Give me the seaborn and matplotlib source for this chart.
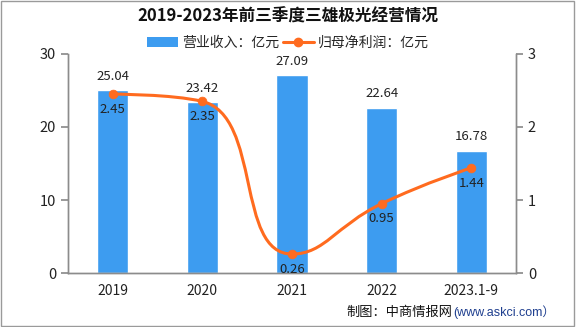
import numpy as np
import matplotlib
matplotlib.use("Agg")
import matplotlib.pyplot as plt
from matplotlib.path import Path
from matplotlib.patches import PathPatch, Patch, Rectangle
from matplotlib.lines import Line2D
import seaborn as sns

# data
years = ["2019", "2020", "2021", "2022", "2023.1-9"]
revenue = [25.04, 23.42, 27.09, 22.64, 16.78]      # 营业收入：亿元
net_profit = [2.45, 2.35, 0.26, 0.95, 1.44]        # 归母净利润：亿元

bar_color = "#3d9cf0"
line_color = "#ff6b1f"
axis_color = "#8c8c8c"

sns.set_theme(style="white")
plt.rcParams["font.family"] = ["Noto Sans CJK SC", "DejaVu Sans"]


def smooth_path(xs, ys, sx, sy, smooth=0.5):
    """Bezier path through the points, echarts-like smoothing with clamped control points."""
    px = np.asarray(xs, float) * sx
    py = np.asarray(ys, float) * sy
    n = len(px)
    verts = [(px[0], py[0])]
    codes = [Path.MOVETO]
    cx0, cy0 = px[0], py[0]
    for k in range(1, n):
        x, y = px[k], py[k]
        prx, pry = px[k - 1], py[k - 1]
        if k == n - 1:
            cx1, cy1 = x, y
            ncx0, ncy0 = x, y
        else:
            nx, ny = px[k + 1], py[k + 1]
            vx, vy = nx - prx, ny - pry
            len_prev = np.hypot(x - prx, y - pry)
            len_next = np.hypot(nx - x, ny - y)
            r = len_next / (len_next + len_prev)
            ncx0 = x + vx * smooth * r
            ncy0 = y + vy * smooth * r
            ncx0 = min(max(ncx0, min(nx, x)), max(nx, x))
            ncy0 = min(max(ncy0, min(ny, y)), max(ny, y))
            vx, vy = ncx0 - x, ncy0 - y
            cx1 = x - vx * len_prev / len_next
            cy1 = y - vy * len_prev / len_next
            cx1 = min(max(cx1, min(prx, x)), max(prx, x))
            cy1 = min(max(cy1, min(pry, y)), max(pry, y))
            vx, vy = x - cx1, y - cy1
            ncx0 = x + vx * len_next / len_prev
            ncy0 = y + vy * len_next / len_prev
        verts += [(cx0, cy0), (cx1, cy1), (x, y)]
        codes += [Path.CURVE4] * 3
        cx0, cy0 = ncx0, ncy0
    verts = [(vx_ / sx, vy_ / sy) for vx_, vy_ in verts]
    return Path(verts, codes)


fig = plt.figure(figsize=(5.76, 3.27), dpi=100)
ax = fig.add_axes([0.118, 0.165, 0.778, 0.67])
ax2 = ax.twinx()

sns.barplot(x=years, y=revenue, color=bar_color, width=0.35, saturation=1, ax=ax)
ax.set_xlim(-0.5, 4.5)
ax.set_ylim(0, 30)
ax.set_yticks([0, 10, 20, 30])
ax2.set_ylim(0, 3)
ax2.set_yticks([0, 1, 2, 3])
ax.set_xlabel("")
ax.set_ylabel("")

xs = np.arange(len(net_profit), dtype=float)
# px per unit, only for the smoothing weights
ax2.add_patch(PathPatch(smooth_path(xs, net_profit, 89.6, 73.0), fill=False,
                        edgecolor=line_color, linewidth=2.2, zorder=3))
sns.scatterplot(x=xs, y=net_profit, color=line_color, s=40, edgecolor=line_color,
                zorder=4, ax=ax2, legend=False)

# value labels
for i, v in enumerate(revenue):
    ax.text(i, v + 1.0, f"{v:.2f}", ha="center", va="bottom", fontsize=9.5,
            color="#222222")
for i, v in enumerate(net_profit):
    ax2.text(i, v - 0.12, f"{v:.2f}", ha="center", va="top", fontsize=9.5,
             color="#222222", zorder=5)

# axes styling
for a in (ax, ax2):
    a.spines["top"].set_visible(False)
    for s in ("left", "right", "bottom"):
        a.spines[s].set_color(axis_color)
        a.spines[s].set_linewidth(1)
    a.grid(False)
ax.set_xticks(np.arange(-0.5, 5, 1), minor=True)
ax.tick_params(axis="x", which="major", length=0, labelsize=10, pad=8,
               labelcolor="#222222")
ax.tick_params(axis="x", which="minor", length=5, color=axis_color, direction="out")
ax.tick_params(axis="y", length=5, color=axis_color, labelsize=10.5,
               labelcolor="#222222", left=True)
ax2.tick_params(axis="y", length=5, color=axis_color, labelsize=10.5,
                labelcolor="#222222", right=True)

fig.text(0.5, 0.948, "2019-2023年前三季度三雄极光经营情况", ha="center",
         va="center", fontsize=12, fontweight="bold", color="#111111")
handles = [Patch(facecolor=bar_color, edgecolor="none"),
           Line2D([0], [0], color=line_color, lw=2.2, marker="o", markersize=6)]
fig.legend(handles, ["营业收入：亿元", "归母净利润：亿元"], loc="center",
           bbox_to_anchor=(0.5, 0.868), ncol=2, frameon=False, fontsize=10,
           handlelength=2.2, handletextpad=0.3, columnspacing=0.3)

fig.text(0.601, 0.045, "制图：中商情报网", ha="left", va="center",
         fontsize=9.5, color="#111111")
fig.text(0.787, 0.045, "(www.askci.com）", ha="left", va="center",
         fontsize=9, color="#1f3f8f", family=["Liberation Sans", "Noto Sans CJK SC"])

fig.patches.append(Rectangle((0.002, 0.004), 0.995, 0.992, transform=fig.transFigure,
                             fill=False, edgecolor="#9a9a9a", linewidth=1))

fig.savefig("out.png", dpi=100)
